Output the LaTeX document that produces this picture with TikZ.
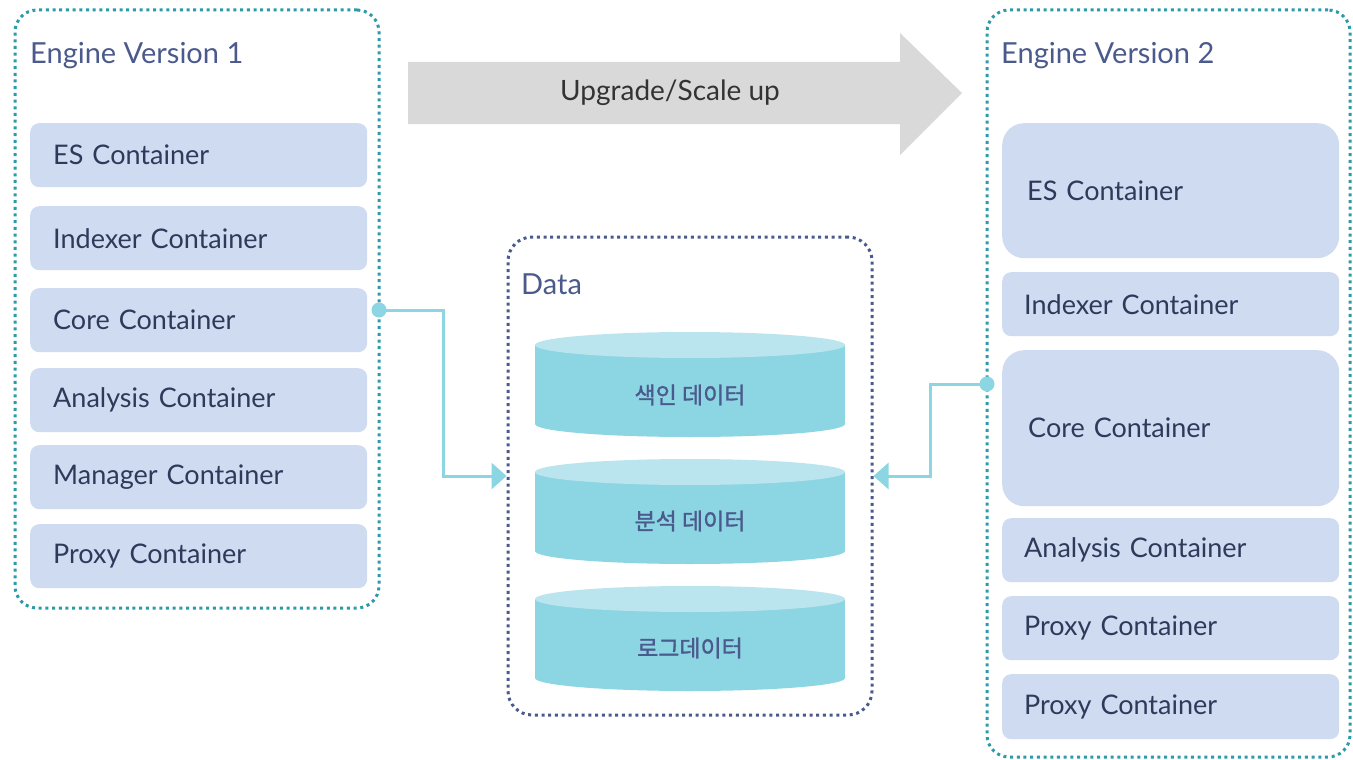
\documentclass[tikz,border=0pt]{standalone}
\usepackage{fontspec}
\setmainfont{Lato}
\newfontfamily\krfont[FakeBold=1.3]{Noto Sans CJK KR}
\usetikzlibrary{arrows.meta}

\definecolor{enginedot}{HTML}{2B9AA9}
\definecolor{datadot}{HTML}{4B5A8C}
\definecolor{titlecol}{HTML}{4B5A8C}
\definecolor{boxfill}{HTML}{CFDBF0}
\definecolor{boxtext}{HTML}{2D3A5A}
\definecolor{upgray}{HTML}{D9D9D9}
\definecolor{uptext}{HTML}{333333}
\definecolor{dbtop}{HTML}{BBE5EE}
\definecolor{dbside}{HTML}{8CD5E2}

\tikzset{
  enginebox/.style={draw=enginedot, line width=3pt, dash pattern=on 3pt off 3.7pt, rounded corners=22pt},
  databox/.style={draw=datadot, line width=3pt, dash pattern=on 3pt off 3.7pt, rounded corners=24pt},
  title/.style={anchor=west, text=titlecol, font=\fontsize{29}{34}\selectfont, inner sep=0pt},
  cbox/.style={anchor=north west, fill=boxfill, rounded corners=9pt, minimum width=337pt, text width=291pt,
    align=left, inner xsep=23pt, text=boxtext, font=\fontsize{27}{32}\selectfont},
  link/.style={draw=dbside, line width=3pt, -{Triangle[length=15pt,width=26pt]}},
  dblabel/.style={text=titlecol, font=\krfont\fontsize{23}{27}\selectfont}
}

\begin{document}
\begin{tikzpicture}[x=1pt, y=-1pt]
\useasboundingbox (0,0) rectangle (1353,760);

% ENGINE VERSION 1
\node[enginebox, minimum width=364pt, minimum height=598pt] (v1) at (197,309) {};
\node[title] (v1title) at (30,56) {Engine Version 1};
\node[cbox, minimum height=64pt] (v1es) at (30,123) {ES Container};
\node[cbox, minimum height=64pt] (v1idx) at (30,206) {Indexer Container};
\node[cbox, minimum height=64pt] (v1core) at (30,288) {Core Container};
\node[cbox, minimum height=64pt] (v1ana) at (30,368) {Analysis Container};
\node[cbox, minimum height=64pt] (v1mgr) at (30,445) {Manager Container};
\node[cbox, minimum height=64pt] (v1proxy) at (30,524) {Proxy Container};

% UPGRADE ARROW
\fill[upgray] (408,62) -- (900,62) -- (900,33) -- (962,93) -- (900,155) -- (900,124) -- (408,124) -- cycle;
\node[text=uptext, font=\fontsize{28}{33}\selectfont] (upg) at (670,93) {Upgrade/Scale up};

% DATA
\node[databox, minimum width=364pt, minimum height=478pt] (data) at (690,476) {};
\node[title] (datatitle) at (521,284) {Data};

% CYLINDERS
\fill[dbside] (535,345) rectangle (845,424);
\fill[dbside] (690,424) ellipse [x radius=155, y radius=13];
\fill[dbtop] (690,345) ellipse [x radius=155, y radius=13];
\node[dblabel] (db1) at (690,395) {색인 데이터};

\fill[dbside] (535,472) rectangle (845,551);
\fill[dbside] (690,551) ellipse [x radius=155, y radius=13];
\fill[dbtop] (690,472) ellipse [x radius=155, y radius=13];
\node[dblabel] (db2) at (690,521) {분석 데이터};

\fill[dbside] (535,599) rectangle (845,678);
\fill[dbside] (690,678) ellipse [x radius=155, y radius=13];
\fill[dbtop] (690,599) ellipse [x radius=155, y radius=13];
\node[dblabel] (db3) at (690,648) {로그데이터};

% ENGINE VERSION 2
\node[enginebox, minimum width=363pt, minimum height=747pt] (v2) at (1168.5,383.5) {};
\node[title] (v2title) at (1001,56) {Engine Version 2};
\node[cbox, minimum height=135pt, rounded corners=22pt, inner xsep=25pt, text width=287pt] (v2es) at (1002,123) {ES Container};
\node[cbox, minimum height=64pt, inner xsep=22pt, text width=293pt] (v2idx) at (1002,272) {Indexer Container};
\node[cbox, minimum height=156pt, rounded corners=22pt, inner xsep=26pt, text width=285pt] (v2core) at (1002,350) {Core Container};
\node[cbox, minimum height=64pt, inner xsep=22pt, text width=293pt] (v2ana) at (1002,518) {Analysis Container};
\node[cbox, minimum height=64pt, inner xsep=22pt, text width=293pt] (v2proxy) at (1002,596) {Proxy Container};
\node[cbox, minimum height=65pt, inner xsep=22pt, text width=293pt] (v2proxyb) at (1002,674) {Proxy Container};

% CONNECTORS
\coordinate (v1out) at (379,310);
\coordinate (v2out) at (987,384);
\draw[link] (v1out) -- ++(64,0) |- (data.west);
\draw[link] (v2out) -- ++(-57,0) |- (data.east);
\fill[dbside] (v1out) circle (7.5pt);
\fill[dbside] (v2out) circle (7.5pt);

\end{tikzpicture}
\end{document}
